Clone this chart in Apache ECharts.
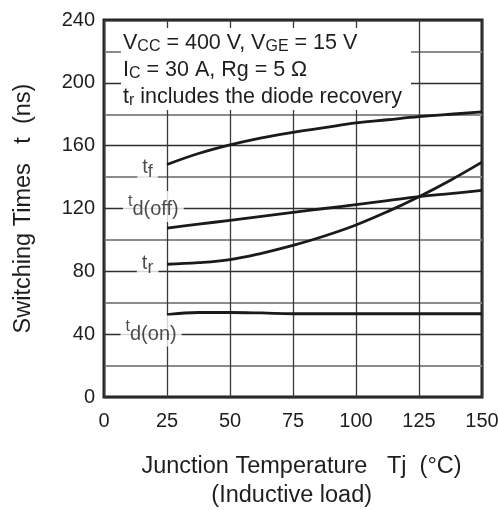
<!DOCTYPE html>
<html><head><meta charset="utf-8">
<script src="https://cdn.jsdelivr.net/npm/echarts@6/dist/echarts.min.js"></script>
<style>html,body{margin:0;padding:0;background:#fff}#c{width:499px;height:510px}</style>
</head><body><div id="c"></div>
<script>
const temps = [25, 37.5, 50, 62.5, 75, 87.5, 100, 112.5, 125, 137.5, 150];
const tf    = [148, 155, 160.5, 165, 168.5, 171.5, 174.5, 176.5, 178.5, 180, 181.5];
const tdoff = [107.5, 110, 112.5, 115, 117.5, 120, 122.5, 125, 127.5, 129.5, 131.5];
const tr    = [84.5, 85.5, 87.5, 91.5, 96.5, 102.5, 109.5, 118, 127.5, 138, 149.5];
const tdon  = [52.5, 53.8, 53.8, 53.5, 53, 53, 53, 53, 53, 53, 53];
const xTicks = [0, 25, 50, 75, 100, 125, 150];
const yTicks = [0, 40, 80, 120, 160, 200, 240];
const curveLabels = [
  { main: 't', sub: 'f', at: [17.3, 144.2] },
  { main: 't', sub: 'd(off)', at: [19.6, 121.3] },
  { main: 't', sub: 'r', at: [17.3, 83.4] },
  { main: 't', sub: 'd(on)', at: [18.7, 42] }
];
const conditions = [
  ['V', 'CC', ' = 400 V, ', 'V', 'GE', ' = 15 V'],
  ['I', 'C', ' = 30 A, Rg = 5 Ω'],
  ['t', 'r', ' includes the diode recovery']
];
const xName = ['Junction Temperature   Tj  (°C)', '(Inductive load)   '];
const yName = 'Switching Times   t  (ns)';

const FONT = '"Liberation Sans", Arial, Helvetica, sans-serif';
const TXT = '#1e1e1e';
const pairs = a => temps.map((t, i) => [t, a[i]]);
const curve = (name, a) => ({
  name, type: 'line', data: pairs(a), smooth: 0.4, symbol: 'none',
  lineStyle: { color: '#1a1a1a', width: 2.8 }, z: 3
});
const condText = conditions.map(line => line.map((tok, i) => (i % 3 === 1 ? '{s|' + tok + '}' : tok)).join('')).join('\n');

const chart = echarts.init(document.getElementById('c'));
chart.setOption({
  animation: false,
  backgroundColor: '#fff',
  textStyle: { fontFamily: FONT },
  grid: { left: 104, right: 17, top: 20, bottom: 113, containLabel: false, outerBoundsMode: 'none',
          show: true, borderColor: '#222', borderWidth: 3, backgroundColor: 'transparent' },
  xAxis: {
    type: 'value', min: xTicks[0], max: xTicks[xTicks.length - 1], interval: 25,
    name: xName.join('\n'),
    nameLocation: 'middle', nameGap: 55,
    nameTextStyle: { color: TXT, fontSize: 23.5, fontFamily: FONT, lineHeight: 29, padding: [0, 0, 0, 17] },
    axisLine: { show: false }, axisTick: { show: false },
    axisLabel: { color: TXT, fontSize: 20, fontFamily: FONT, margin: 14 },
    splitLine: { show: true, lineStyle: { color: '#3a3a3a', width: 1.3 } }
  },
  yAxis: {
    type: 'value', min: yTicks[0], max: yTicks[yTicks.length - 1], interval: 40,
    name: yName, nameLocation: 'middle', nameGap: 68,
    nameTextStyle: { color: TXT, fontSize: 23.5, fontFamily: FONT },
    axisLine: { show: false }, axisTick: { show: false },
    axisLabel: { color: TXT, fontSize: 20, fontFamily: FONT, margin: 9 },
    splitLine: { show: true, lineStyle: { color: '#2e2e2e', width: 1.3 } },
    minorTick: { show: false, splitNumber: 2 },
    minorSplitLine: { show: true, lineStyle: { color: '#8c8c8c', width: 2 } }
  },
  graphic: [
    { type: 'rect', left: 121, top: 28, z: 100, shape: { width: 290, height: 82 }, style: { fill: '#fff' } },
    { type: 'text', left: 123, top: 30, z: 101, style: {
      text: condText,
      font: '21.5px ' + FONT, fill: TXT, lineHeight: 27,
      rich: { s: { fontSize: 16, fontFamily: FONT, fill: TXT, padding: [7, 0, 0, 0] } }
    } }
  ],
  series: [
    curve('tf', tf), curve('tdoff', tdoff), curve('tr', tr), curve('tdon', tdon),
    {
      type: 'scatter', symbolSize: 0, z: 4, silent: true,
      data: curveLabels.map(l => ({ value: l.at, main: l.main, sub: l.sub })),
      label: {
        show: true, position: 'inside', backgroundColor: '#fff', padding: [1, 5, 2, 5],
        formatter: p => p.data.sub.length > 1
          ? '{m2|' + p.data.main + '}{s2|' + p.data.sub + '}'
          : '{m|' + p.data.main + '}{s|' + p.data.sub + '}',
        rich: {
          m: { fontSize: 20, fontFamily: FONT, color: TXT, padding: [0, 0, 5, 0] },
          s: { fontSize: 18, fontFamily: FONT, color: TXT, padding: [5, 0, 0, 0] },
          m2: { fontSize: 16, fontFamily: FONT, color: TXT, padding: [0, 0, 8, 0] },
          s2: { fontSize: 20, fontFamily: FONT, color: TXT, padding: [8, 0, 0, 0] }
        }
      }
    }
  ]
});
</script></body></html>
